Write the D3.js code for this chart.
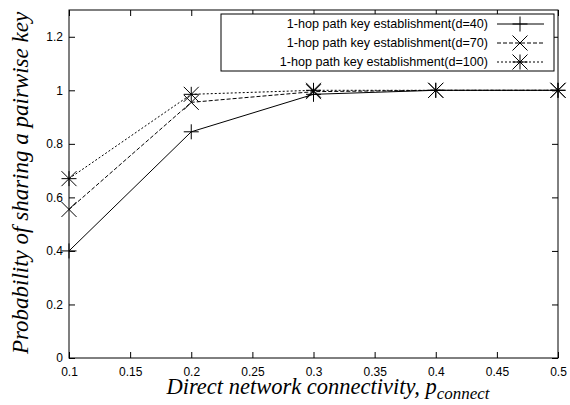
<!DOCTYPE html>
<html><head><meta charset="utf-8">
<script src="https://cdn.jsdelivr.net/npm/d3@7"></script>
<style>body{margin:0;background:#fff}svg{display:block}</style>
</head><body>
<svg id="c" width="570" height="405"></svg>
<script>
const xValues = [0.1, 0.2, 0.3, 0.4, 0.5];
const seriesD40 = [0.40, 0.845, 0.985, 1.0, 1.0];
const seriesD70 = [0.555, 0.955, 0.995, 1.0, 1.0];
const seriesD100 = [0.67, 0.985, 1.0, 1.0, 1.0];
const seriesNames = ["1-hop path key establishment(d=40)", "1-hop path key establishment(d=70)", "1-hop path key establishment(d=100)"];
const xTicks = [0.1, 0.15, 0.2, 0.25, 0.3, 0.35, 0.4, 0.45, 0.5];
const yTicks = [0, 0.2, 0.4, 0.6, 0.8, 1, 1.2];

const svg = d3.select("#c");
const L = 69, R = 558, T = 10, B = 358;
const x = d3.scaleLinear().domain([0.1, 0.5]).range([L, R]);
const y = d3.scaleLinear().domain([0, 1.3]).range([B, T]);
const tickFont = "Liberation Sans, Arial, sans-serif";

const ax = (g, axis) => { g.call(axis); g.select(".domain").remove(); g.selectAll("line").attr("stroke", "#000"); g.selectAll("text").attr("font-family", tickFont).attr("font-size", 12).attr("fill", "#000"); };
svg.append("g").attr("transform", `translate(0,${B})`).call(g => ax(g, d3.axisBottom(x).tickValues(xTicks).tickSize(-6).tickPadding(9).tickFormat(d3.format("~g"))));
svg.append("g").attr("transform", `translate(0,${T})`).call(g => ax(g, d3.axisTop(x).tickValues(xTicks).tickSize(-6).tickFormat("")));
svg.append("g").attr("transform", `translate(${L},0)`).call(g => ax(g, d3.axisLeft(y).tickValues(yTicks).tickSize(-6).tickPadding(6).tickFormat(d3.format("~g"))));
svg.append("g").attr("transform", `translate(${R},0)`).call(g => ax(g, d3.axisRight(y).tickValues(yTicks).tickSize(-6).tickFormat("")));

svg.append("rect").attr("x", L).attr("y", T).attr("width", R - L).attr("height", B - T).attr("fill", "none").attr("stroke", "#000").attr("stroke-width", 1);

const series = [
  {vals: seriesD40, dash: null, marker: "plus"},
  {vals: seriesD70, dash: "4,2", marker: "cross"},
  {vals: seriesD100, dash: "2,2", marker: "star"}
];
function marker(g, type, cx, cy) {
  const s = 7.5;
  let d = "";
  if (type === "plus" || type === "star") d += `M${cx - s},${cy}H${cx + s}M${cx},${cy - s}V${cy + s}`;
  if (type === "cross" || type === "star") d += `M${cx - s},${cy - s}L${cx + s},${cy + s}M${cx - s},${cy + s}L${cx + s},${cy - s}`;
  g.append("path").attr("d", d).attr("stroke", "#000").attr("stroke-width", 1).attr("fill", "none");
}
const line = d3.line().x((d, i) => x(xValues[i])).y(d => y(d));
series.forEach(s => {
  svg.append("path").attr("d", line(s.vals)).attr("fill", "none").attr("stroke", "#000").attr("stroke-width", 1).attr("stroke-dasharray", s.dash);
  s.vals.forEach((v, i) => marker(svg, s.marker, x(xValues[i]), y(v)));
});

const lg = svg.append("g");
lg.append("rect").attr("x", 221).attr("y", 14).attr("width", 333).attr("height", 57).attr("fill", "#fff").attr("stroke", "#000");
series.forEach((s, i) => {
  const yy = 24 + i * 19;
  lg.append("text").attr("x", 488).attr("y", yy).attr("dy", "0.35em").attr("text-anchor", "end").attr("font-family", tickFont).attr("font-size", 12.6).text(seriesNames[i]);
  lg.append("line").attr("x1", 497).attr("x2", 544).attr("y1", yy).attr("y2", yy).attr("stroke", "#000").attr("stroke-dasharray", s.dash);
  marker(lg, s.marker, 520, yy);
});

const serif = "Liberation Serif, Times New Roman, serif";
svg.append("text").attr("transform", "translate(28,183) rotate(-90)").attr("text-anchor", "middle").attr("font-family", serif).attr("font-style", "italic").attr("font-size", 23).text("Probability of sharing a pairwise key");
const xt = svg.append("text").attr("x", 328).attr("y", 394).attr("text-anchor", "middle").attr("font-family", serif).attr("font-style", "italic").attr("font-size", 22.5);
xt.append("tspan").text("Direct network connectivity, p");
xt.append("tspan").attr("font-size", 17).attr("dy", 5).text("connect");
</script>
</body></html>
